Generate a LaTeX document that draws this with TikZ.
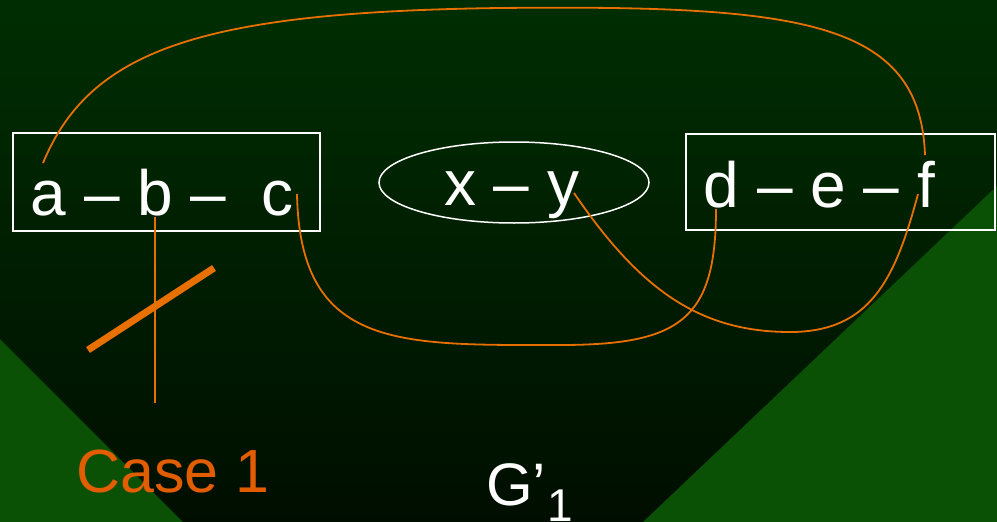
\documentclass[tikz,border=0pt]{standalone}
\usepackage{fontspec}
\setmainfont{Liberation Sans}
\usetikzlibrary{shapes.geometric}
\definecolor{bgtop}{RGB}{0,46,2}
\definecolor{bgbot}{RGB}{0,14,0}
\definecolor{tri}{RGB}{10,80,5}
\definecolor{lorange}{RGB}{232,112,0}
\definecolor{torange}{RGB}{226,92,0}
\newcommand\bigtxt{\fontsize{64}{72}\selectfont}
\begin{document}
\begin{tikzpicture}[x=1pt,y=-1pt,
  box/.style={draw=white,line width=1.5pt,inner sep=0pt},
  lbl/.style={text=white,inner sep=0pt,anchor=base west,font=\bigtxt},
  link/.style={draw=lorange,line width=1.8pt}]
\useasboundingbox (0,0) rectangle (997,522);
% background
\shade[top color=bgtop,bottom color=bgbot] (0,0) rectangle (997,522);
\fill[tri] (0,339) -- (183,522) -- (0,522) -- cycle;
\fill[tri] (997,186) -- (997,522) -- (643,522) -- cycle;
% boxes
\node[box,minimum width=307pt,minimum height=98pt] (L) at (166.5,182) {};
\node[box,minimum width=309pt,minimum height=96pt] (R) at (840.5,182) {};
\node[box,ellipse,minimum width=270pt,minimum height=81pt] (E) at (514,182.5) {};
% texts
\node[lbl] (tabc) at (30.5,215) {a – b –\ \ c};
\node[lbl] (txy) at (444,205) {x – y};
\node[lbl] (tdef) at (703.5,207) {d – e – f};
\node[lbl,text=torange,font=\fontsize{61}{68}\selectfont] (case) at (76,492) {Case 1};
\node[lbl,font=\fontsize{60}{66}\selectfont] (g) at (486,505) {G’};
\node[lbl,font=\fontsize{46}{52}\selectfont] (gsub) at (547,521) {1};
% connector ends
\coordinate (aE) at (43,163);
\coordinate (fE) at (925,155);
\coordinate (top) at (500,8);
\coordinate (cE) at (297,194);
\coordinate (cdLow) at (560,345);
\coordinate (dE) at (716,209);
\coordinate (yE) at (574,193);
\coordinate (yfLow) at (790,332);
\coordinate (fE2) at (918,194);
\coordinate (bT) at (155,217);
\coordinate (bB) at (155,403);
\coordinate (s1) at (88,350);
\coordinate (s2) at (214,268);
% connectors
\draw[link] (aE) .. controls (90,50) and (200,12) .. (top)
  .. controls (800,5) and (920,20) .. (fE);
\draw[link] (cE) .. controls (300,350) and (400,345) .. (cdLow)
  .. controls (680,345) and (716,320) .. (dE);
\draw[link] (yE) .. controls (640,290) and (700,332) .. (yfLow)
  .. controls (870,332) and (895,280) .. (fE2);
\draw[link] (bT) -- (bB);
\draw[draw=lorange,line width=7pt] (s1) -- (s2);
\end{tikzpicture}
\end{document}
